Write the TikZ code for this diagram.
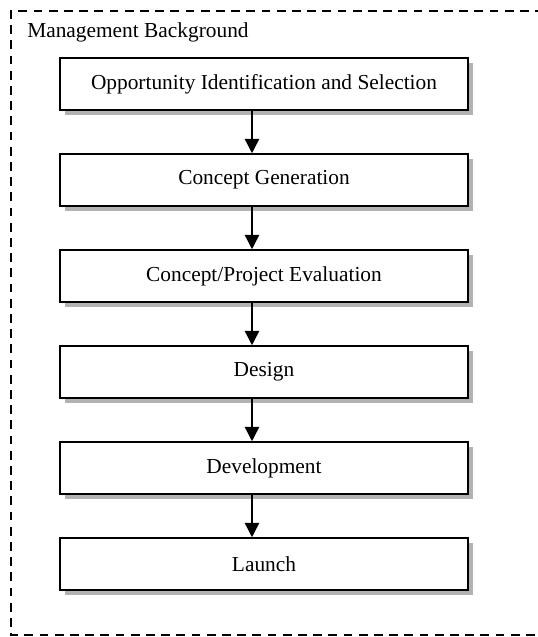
\documentclass[tikz,border=0pt]{standalone}
\usepackage{fontspec}
\setmainfont{Liberation Serif}
\usetikzlibrary{arrows.meta,positioning,shadows}
\tikzset{
  >={Triangle[length=3.6mm,width=3.6mm]},
  stage/.style={draw=black,fill=white,line width=1.1pt,
    minimum height=13mm,minimum width=102mm,align=center,
    font=\fontsize{15.2}{17}\selectfont,
    drop shadow={shadow xshift=1.2mm,shadow yshift=-1.2mm,fill=gray!60,opacity=1}},
  flow/.style={->,line width=1pt},
  frame/.style={draw=black,line width=1.1pt,dash pattern=on 2.2mm off 1.6mm},
}
\begin{document}
\begin{tikzpicture}
  \useasboundingbox (0,0) rectangle (13.45,-15.925);
  % dashed surround with its caption
  \draw[frame] (13.6,-0.275) -- (0.275,-0.275) -- (0.275,-15.875) -- (13.6,-15.875);
  \node[anchor=west,font=\fontsize{15.2}{17}\selectfont,inner sep=0pt] (mb) at (0.675,-0.8) {Management Background};
  % the six stages
  \foreach \t [count=\i] in {Opportunity Identification and Selection,Concept Generation,
      Concept/Project Evaluation,Design,Development,Launch}{
    \node[stage] (s\i) at (6.6,{-2.1-2.4*(\i-1)}) {\t};
  }
  \foreach \i [evaluate=\i as \j using int(\i+1)] in {1,...,5}
    \draw[flow] (s\i.south -| 6.3,0) -- (s\j.north -| 6.3,0);
\end{tikzpicture}
\end{document}
